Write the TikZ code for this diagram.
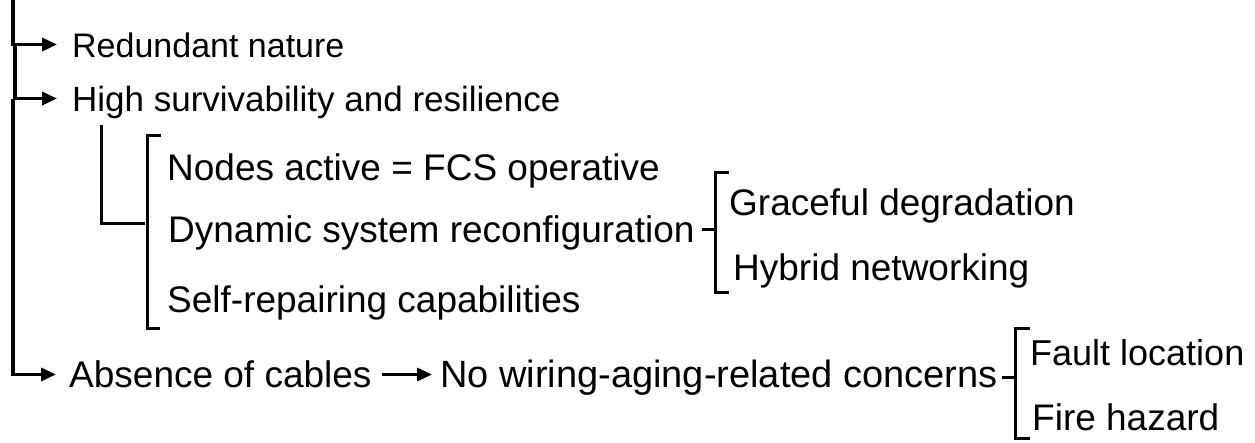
\documentclass[tikz,border=0pt]{standalone}
\usepackage{fontspec}
\setmainfont{Liberation Sans}
\usetikzlibrary{arrows.meta,calc}

\begin{document}
\begin{tikzpicture}[x=1pt,y=-1pt,
        item/.style={anchor=base west,inner sep=0pt,text height=25pt,text depth=0pt,
            font=\fontsize{#1}{44}\selectfont},
        item/.default=37,
        trunk/.style={line width=3.5pt},
        brace/.style={line width=3pt},
        arr/.style={-{Triangle[length=15pt,width=13pt]}}]
    \useasboundingbox (0,0) rectangle (1255,442);

    % first level
    \node[item=34] (red)  at (72,57)  {Redundant nature};
    \node[item=35] (high) at (72,111) {High survivability and resilience};
    \node[item] (abs)  at (69,387) {Absence of cables};
    \node[item=38] (wir)  at (440,387) {No wiring-aging-related concerns};

    % second level
    \node[item] (nodes) at (167,180) {Nodes active = FCS operative};
    \node[item] (dyn)   at (168,242) {Dynamic system reconfiguration};
    \node[item] (self)  at (167,312) {Self-repairing capabilities};

    % third level
    \node[item] (grace) at (729,215) {Graceful degradation};
    \node[item] (hyb)   at (733,280) {Hybrid networking};
    \node[item=36] (fault) at (1030,365) {Fault location};
    \node[item] (fire)  at (1032,430) {Fire hazard};

    % main trunk with arrows
    \coordinate (top) at (13,0);
    \coordinate (k1) at ($(top |- red.west)+(2,0)$);
    \coordinate (k2) at (top |- high.west);
    \draw[trunk,arr] (top) |- ($(red.west)+(-15,0)$);
    \draw[trunk,arr] (k1) |- ($(high.west)+(-15,0)$);
    \draw[trunk,arr] (k2) |- ($(abs.west)+(-13,0)$);

    % bracket under high survivability
    \coordinate (hs) at ($(high.south west)+(29,14)$);
    \draw[brace] (hs) |- ($(dyn.west)+(-23,-6.5)$);
    \draw[brace] ($(nodes.west)+(-6,-32)$) -| ($(self.west)+(-20,28.5)$) -- ++(13,0);

    % bracket after reconfiguration
    \draw[brace] ($(grace.west)+(-14,27)$) -- ++(-13,0);
    \draw[brace] ($(grace.west)+(0,-30)$) -| ($(hyb.west)+(-18,24.5)$) -- ++(14,0);

    % absence of cables branch
    \draw[brace,arr] ($(wir.west)+(-58,0)$) -- ($(wir.west)+(-8,0)$);
    \draw[brace] ($(fault.west)+(-15,24.5)$) -- ++(-13,0);
    \draw[brace] ($(fault.west)+(0,-24)$) -| ($(fire.west)+(-17,20.5)$) -- ++(15,0);
\end{tikzpicture}
\end{document}
